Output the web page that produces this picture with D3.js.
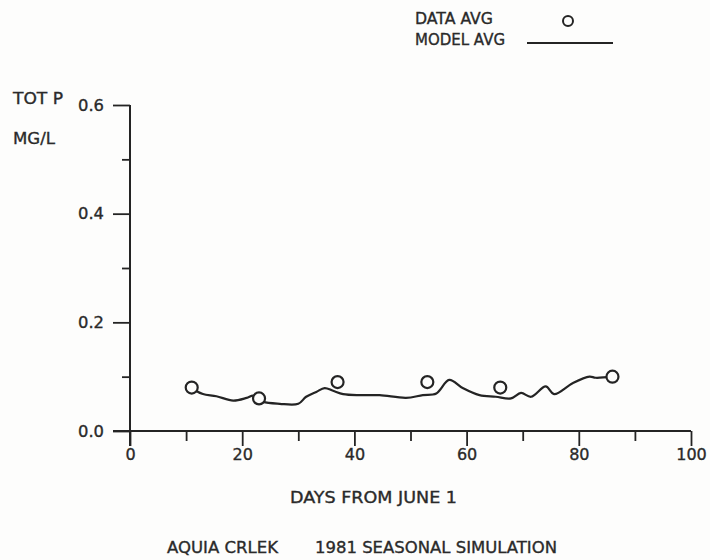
<!DOCTYPE html>
<html>
<head>
<meta charset="utf-8">
<script src="https://cdn.jsdelivr.net/npm/d3@7"></script>
<style>
  html, body { margin: 0; padding: 0; background: #fdfdfc; }
  svg { display: block; }
  text { font-family: "DejaVu Sans", "Liberation Sans", sans-serif; fill: #2a2a2a;
         stroke: #2a2a2a; stroke-width: 0.35px; }
</style>
</head>
<body>
<svg id="chart" width="710" height="560"></svg>
<script>
// Observed monthly-average total phosphorus (days from June 1, mg/L)
const dataDays = [11, 23, 37, 53, 66, 86];
const dataAvg  = [0.080, 0.060, 0.090, 0.090, 0.080, 0.100];

// Simulated model average
const modelDays = [11, 11.6, 13, 15.4, 18.4, 20.8, 22, 23.7, 26.7, 30, 31.4, 33.2, 34.7, 36.2, 38, 41,
                   44.5, 49.2, 52.2, 54.6, 56.9, 59.3, 62.3, 65.2, 67.9, 69.7, 71.5, 74.1, 75.6, 78.9,
                   81.9, 83, 86];
const modelAvg  = [0.080, 0.075, 0.068, 0.064, 0.056, 0.061, 0.065, 0.054, 0.050, 0.050, 0.063, 0.072, 0.079, 0.074, 0.068, 0.066,
                   0.066, 0.061, 0.066, 0.069, 0.094, 0.079, 0.066, 0.063, 0.060, 0.070, 0.063, 0.082, 0.068, 0.088,
                   0.100, 0.098, 0.100];

const xMajor = [0, 20, 40, 60, 80, 100];
const xMinor = [10, 30, 50, 70, 90];
const yMajor = [0.0, 0.2, 0.4, 0.6];
const yMinor = [0.1, 0.3, 0.5];
const yTickLabels = ["0.0", "0.2", "0.4", "0.6"];

const ink = "#242424";
const svg = d3.select("#chart");

const x = d3.scaleLinear().domain([0, 100]).range([130, 691]);
const y = d3.scaleLinear().domain([0, 0.6]).range([431, 105]);

// Axes
const gy = svg.append("g").attr("transform", `translate(${x(0)},0)`);
gy.call(d3.axisLeft(y).tickValues(yMajor).tickSize(17).tickPadding(9)
        .tickFormat((d, i) => yTickLabels[i]));
const gyMinor = svg.append("g").attr("transform", `translate(${x(0)},0)`);
gyMinor.call(d3.axisLeft(y).tickValues(yMinor).tickSize(8).tickFormat(""));

const gx = svg.append("g").attr("transform", `translate(0,${y(0)})`);
gx.call(d3.axisBottom(x).tickValues(xMajor).tickSize(15).tickFormat(d3.format("d")));
const gxMinor = svg.append("g").attr("transform", `translate(0,${y(0)})`);
gxMinor.call(d3.axisBottom(x).tickValues(xMinor).tickSize(10).tickFormat(""));

[gy, gyMinor, gx, gxMinor].forEach(g => {
  g.selectAll(".domain").remove();
  g.selectAll("line").attr("stroke", ink).attr("stroke-width", 1.8);
});
gy.selectAll("text").attr("font-size", 16).attr("fill", "#2a2a2a")
  .style("font-family", "DejaVu Sans").attr("textLength", 26).attr("lengthAdjust", "spacingAndGlyphs");
gx.selectAll("text").attr("font-size", 16).attr("fill", "#2a2a2a")
  .style("font-family", "DejaVu Sans").attr("y", 29).attr("dy", "0");

// Axis lines
svg.append("line").attr("x1", x(0)).attr("x2", x(0)).attr("y1", y(0.6)).attr("y2", y(0) + 15)
  .attr("stroke", ink).attr("stroke-width", 2);
svg.append("line").attr("x1", x(0) - 17).attr("x2", x(100)).attr("y1", y(0)).attr("y2", y(0))
  .attr("stroke", ink).attr("stroke-width", 2);

// Model curve
const line = d3.line().x((d, i) => x(modelDays[i])).y(d => y(d)).curve(d3.curveCatmullRom.alpha(0.5));
svg.append("path").datum(modelAvg).attr("d", line)
  .attr("fill", "none").attr("stroke", ink).attr("stroke-width", 2.2);

// Observed data markers
svg.append("g").selectAll("circle").data(dataAvg).join("circle")
  .attr("cx", (d, i) => x(dataDays[i])).attr("cy", d => y(d)).attr("r", 6)
  .attr("fill", "#fdfdfc").attr("stroke", ink).attr("stroke-width", 2.2);

// Axis titles
function label(txt, tx, ty, size, len, anchor) {
  const t = svg.append("text").attr("x", tx).attr("y", ty).attr("font-size", size)
    .attr("text-anchor", anchor || "start").text(txt);
  if (len) t.attr("textLength", len).attr("lengthAdjust", "spacingAndGlyphs");
  return t;
}
label("TOT P", 13, 104, 16, 50);
label("MG/L", 13, 144, 16, 42);
label("DAYS FROM JUNE 1", 290, 503, 15, 167);
label("AQUIA CRLEK", 167, 553, 16, 111);
label("1981 SEASONAL SIMULATION", 315, 553, 16, 242);

// Legend
label("DATA AVG", 415, 24, 15, 78);
label("MODEL AVG", 415, 45, 15, 90);
svg.append("circle").attr("cx", 568).attr("cy", 21).attr("r", 5)
  .attr("fill", "none").attr("stroke", ink).attr("stroke-width", 2);
svg.append("line").attr("x1", 527).attr("x2", 613).attr("y1", 43).attr("y2", 43)
  .attr("stroke", ink).attr("stroke-width", 1.8);
</script>
</body>
</html>
